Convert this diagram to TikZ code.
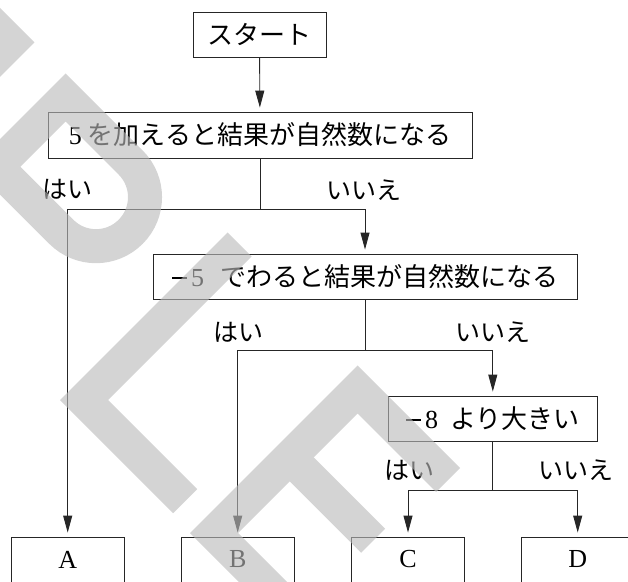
\documentclass[tikz,border=0pt]{standalone}
\usepackage{fontspec}
\newfontfamily\jp{Noto Sans CJK JP}
\newfontfamily\num{Liberation Serif}
\newcommand{\mns}{\rule[0.3em]{15pt}{1.3pt}\hspace{4pt}}
\usetikzlibrary{arrows.meta}

\begin{document}
\begin{tikzpicture}[x=1pt, y=-1pt,
	box/.style={draw=black!85, line width=0.9pt, inner sep=0pt, minimum height=45pt, font=\fontsize{26}{30}\selectfont\num},
	arr/.style={draw=black!85, line width=0.9pt, -{Triangle[length=17pt,width=9pt]}, shorten >=4pt},
	lbl/.style={font=\fontsize{25}{30}\selectfont\jp},
	wm/.style={draw=black!27, line width=34pt, opacity=0.62, line join=miter},
	letter/.style={x={(0.7071pt,-0.7071pt)}, y={(0.7071pt,0.7071pt)}}]

	\useasboundingbox (0,0) rectangle (628,581);
	\clip (0,0) rectangle (628,581);

	\node[box, minimum width=133pt] (start) at (259.5,34.5) {\jp スタート};
	\node[box, minimum width=424pt, minimum height=46pt] (q1) at (260,135) {5\hspace{6pt}\jp を加えると結果が自然数になる};
	\node[box, minimum width=424pt] (q2) at (365,276.5) {\mns 5\hspace{16pt}\jp でわると結果が自然数になる};
	\node[box, minimum width=209pt] (q3) at (492.8,418.5) {\mns 8\hspace{12pt}\jp より大きい};

	\node[box, minimum width=113pt] (A) at (67.7,559.5) {A};
	\node[box, minimum width=113pt] (B) at (237.7,559.5) {B};
	\node[box, minimum width=113pt] (C) at (408,559.5) {C};
	\node[box, minimum width=113pt] (D) at (577.7,559.5) {D};

	\coordinate (j1) at (260,209);
	\coordinate (j2) at (365,350);
	\coordinate (j3) at (492.8,490);

	\draw[arr] (start) -- (q1);
	\draw[arr] (q1) -- (j1) -| (A);
	\draw[arr] (j1) -| (q2);
	\draw[arr] (q2) -- (j2) -| (B);
	\draw[arr] (j2) -| (q3);
	\draw[arr] (q3) -- (j3) -| (C);
	\draw[arr] (j3) -| (D);

	\node[lbl] (yes1) at (67.5,189) {はい};
	\node[lbl] (no1) at (364,190) {いいえ};
	\node[lbl] (yes2) at (238,332) {はい};
	\node[lbl] (no2) at (492.5,332) {いいえ};
	\node[lbl] (yes3) at (409,470) {はい};
	\node[lbl] (no3) at (576,470) {いいえ};

	% watermark letters, tilted
	\begin{scope}[shift={(-102,241)}, letter]
		\fill[black!27, opacity=0.62] (-44,0) -- (-44,237) -- (-96,237) -- (-170,0) -- (-134,0) -- (-78,170) -- (-78,0) -- cycle;
		\draw[wm] (17,0) -- (17,220) -- (109,220) .. controls (136.1,220) and (158,198.1) .. (158,171)
			.. controls (158,143.9) and (136.1,122) .. (109,122) -- (34,122);
	\end{scope}
	\begin{scope}[shift={(60,400)}, letter]
		\draw[wm] (17,237) -- (17,17) -- (160,17);
	\end{scope}
	\begin{scope}[shift={(190,533)}, letter]
		\draw[wm] (145,220) -- (17,220) -- (17,17) -- (145,17);
		\draw[wm] (34,124) -- (135,124);
	\end{scope}

\end{tikzpicture}
\end{document}
